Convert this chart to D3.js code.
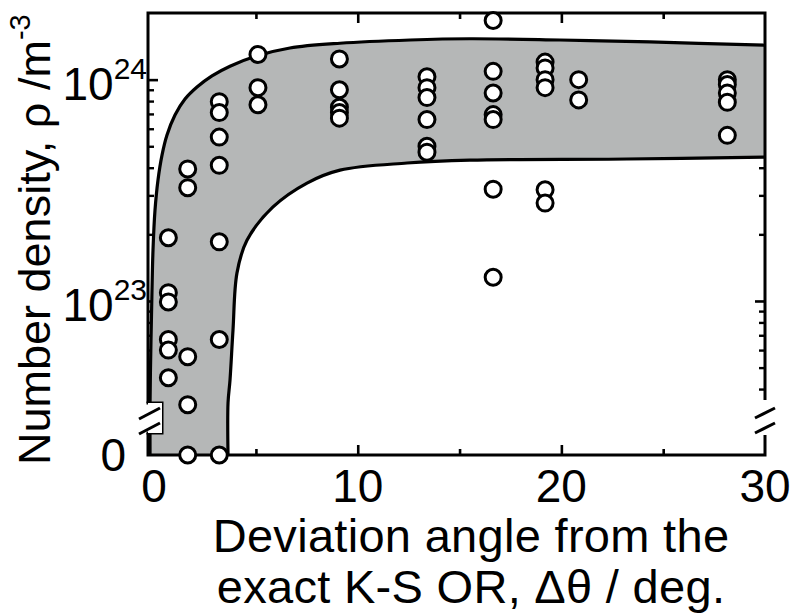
<!DOCTYPE html>
<html>
<head>
<meta charset="utf-8">
<script src="https://cdn.jsdelivr.net/npm/d3@7"></script>
<style>
  body { margin: 0; background: #fff; }
  svg { display: block; }
  text { font-family: "Liberation Sans", Arial, sans-serif; fill: #000; }
</style>
</head>
<body>
<svg id="chart" width="798" height="614"></svg>
<script>
// Measured precipitate number densities, grouped by deviation angle (deg).
// A density of 0 is plotted on the separate zero level below the axis break.
const columnAngles = [0.7, 1.65, 3.2, 5.1, 9.1, 13.4, 16.65, 19.2, 20.85, 28.15];
const columnDensities = [
  [1.93e23, 1.09e23, 9.9e22, 6.7e22, 6.0e22, 4.5e22],
  [3.95e23, 3.25e23, 5.6e22, 3.4e22, 0],
  [7.95e23, 7.1e23, 5.5e23, 4.1e23, 1.85e23, 6.7e22, 0],
  [1.3e24, 9.2e23, 7.7e23],
  [1.24e24, 9.0e23, 7.5e23, 7.1e23, 6.7e23],
  [1.03e24, 9.2e23, 8.3e23, 6.6e23, 5.0e23, 4.7e23],
  [1.85e24, 1.09e24, 8.7e23, 6.95e23, 6.6e23, 3.2e23, 1.28e23],
  [1.2e24, 1.13e24, 1.0e24, 9.2e23, 3.18e23, 2.77e23],
  [1.0e24, 8.1e23],
  [1.0e24, 9.5e23, 8.7e23, 7.9e23, 5.6e23]
];

// Upper and lower envelope of the shaded band
const upperAngle = [-0.2, -0.2, -0.153, -0.104, -0.054, 0.044, 0.191, 0.388, 0.633, 1.026, 1.517, 2.106, 2.843, 3.727, 5.05, 6.67, 9.13, 12.57, 15.5, 19.93, 24.35, 30];
const upperDensity = [0, 3.46e22, 6.66e22, 1.12e23, 1.7e23, 2.57e23, 3.52e23, 4.56e23, 5.62e23, 6.92e23, 8.17e23, 9.26e23, 1.04e24, 1.15e24, 1.28e24, 1.39e24, 1.46e24, 1.51e24, 1.53e24, 1.51e24, 1.48e24, 1.43e24];
const lowerAngle = [3.63, 3.63, 3.727, 3.874, 4.07, 4.56, 5.84, 7.51, 9.13, 12.42, 15.51, 23.22, 30];
const lowerDensity = [0, 3.46e22, 4.39e22, 7.39e22, 1.34e23, 1.88e23, 2.66e23, 3.41e23, 3.9e23, 4.2e23, 4.33e23, 4.38e23, 4.47e23];

// Axis ticks and labels
const xMajorTicks = [10, 20];
const xMinorTicks = [5, 15, 25];
const xTickLabels = [0, 10, 20, 30];
const yMajorTicks = [1e23, 1e24];
const yMinorTicks = [4e22, 5e22, 6e22, 7e22, 8e22, 9e22, 2e23, 3e23, 4e23, 5e23, 6e23, 7e23, 8e23, 9e23];
const yLabelValues = [1e23, 1e24];
const yLabelExponents = ["23", "24"];

const svg = d3.select("#chart");

const plotLeft = 148, plotRight = 765, plotTop = 13, logBottom = 403, zeroY = 455;
const breakTop = 403, breakBottom = 433, rightBreakTop = 400, rightBreakBottom = 435;

const x = d3.scaleLinear().domain([-0.3, 30]).range([plotLeft, plotRight]);
const yLog = d3.scaleLog().domain([3.46e22, 2e24]).range([logBottom, plotTop]);
const yPos = v => (v > 0 ? yLog(v) : zeroY);

const black = "#000";
const bandFill = "#b5b7b7";

// ---- ticks (drawn first so the band covers them) ----
function styleAxis(g, width) {
  g.select(".domain").remove();
  g.selectAll(".tick line").attr("stroke", black).attr("stroke-width", width);
  g.selectAll(".tick text").remove();
}
const ticks = svg.append("g");
ticks.append("g").attr("transform", `translate(${plotLeft},0)`)
  .call(d3.axisRight(yLog).tickValues(yMajorTicks).tickSize(10).tickFormat(""))
  .call(g => styleAxis(g, 2.6));
ticks.append("g").attr("transform", `translate(${plotLeft},0)`)
  .call(d3.axisRight(yLog).tickValues(yMinorTicks).tickSize(6).tickFormat(""))
  .call(g => styleAxis(g, 2.4));
ticks.append("g").attr("transform", `translate(${plotRight},0)`)
  .call(d3.axisLeft(yLog).tickValues(yMajorTicks).tickSize(10).tickFormat(""))
  .call(g => styleAxis(g, 2.6));
ticks.append("g").attr("transform", `translate(${plotRight},0)`)
  .call(d3.axisLeft(yLog).tickValues(yMinorTicks).tickSize(6).tickFormat(""))
  .call(g => styleAxis(g, 2.4));
ticks.append("g").attr("transform", `translate(0,${zeroY})`)
  .call(d3.axisTop(x).tickValues(xMajorTicks).tickSize(10).tickFormat(""))
  .call(g => styleAxis(g, 2.6));
ticks.append("g").attr("transform", `translate(0,${zeroY})`)
  .call(d3.axisTop(x).tickValues(xMinorTicks).tickSize(6).tickFormat(""))
  .call(g => styleAxis(g, 2.6));
ticks.append("g").attr("transform", `translate(0,${plotTop})`)
  .call(d3.axisBottom(x).tickValues(xMajorTicks).tickSize(10).tickFormat(""))
  .call(g => styleAxis(g, 2.6));
ticks.append("g").attr("transform", `translate(0,${plotTop})`)
  .call(d3.axisBottom(x).tickValues(xMinorTicks).tickSize(6).tickFormat(""))
  .call(g => styleAxis(g, 2.6));

// ---- shaded band between the two envelopes ----
const upperPts = upperAngle.map((a, i) => [x(a), yPos(upperDensity[i])]);
const lowerPts = lowerAngle.map((a, i) => [x(a), yPos(lowerDensity[i])]);
const curve = d3.line().curve(d3.curveCatmullRom.alpha(0.5));
const bandPath = curve(upperPts) + "L" + curve(lowerPts.slice().reverse()).slice(1) + "Z";

svg.append("path").attr("d", bandPath).attr("fill", bandFill).attr("stroke", "none");
svg.append("path").attr("d", curve(upperPts)).attr("fill", "none")
  .attr("stroke", black).attr("stroke-width", 3.2);
svg.append("path").attr("d", curve(lowerPts)).attr("fill", "none")
  .attr("stroke", black).attr("stroke-width", 3.2);

// ---- frame with axis breaks ----
const frame = svg.append("g").attr("fill", "none").attr("stroke", black).attr("stroke-width", 3);
frame.append("path").attr("d",
  `M${plotLeft},${breakTop}V${plotTop}H${plotRight}V${rightBreakTop}`);
frame.append("path").attr("d",
  `M${plotRight},${rightBreakBottom}V${zeroY}H${plotLeft}V${breakBottom}`);
// left break: notch cut out of the band
svg.append("rect").attr("x", plotLeft).attr("y", breakTop)
  .attr("width", 14).attr("height", breakBottom - breakTop).attr("fill", "#fff");
frame.append("path").attr("d",
  `M${plotLeft - 1.5},${breakTop}H${plotLeft + 14}V${breakBottom}H${plotLeft - 1.5}`);
const slashes = svg.append("g").attr("stroke", black).attr("stroke-width", 3);
slashes.append("line").attr("x1", 139).attr("y1", 419).attr("x2", 160).attr("y2", 408);
slashes.append("line").attr("x1", 139).attr("y1", 434).attr("x2", 160).attr("y2", 423);
slashes.append("line").attr("x1", 755).attr("y1", 418).attr("x2", 775).attr("y2", 408);
slashes.append("line").attr("x1", 755).attr("y1", 433).attr("x2", 775).attr("y2", 423);

// ---- data points ----
const points = columnAngles.flatMap((a, i) => columnDensities[i].map(d => ({ a, d })));
svg.append("g").selectAll("circle").data(points).join("circle")
  .attr("cx", p => x(p.a)).attr("cy", p => yPos(p.d)).attr("r", 8)
  .attr("fill", "#fff").attr("stroke", black).attr("stroke-width", 3);

// ---- tick labels ----
const fs = 46;
svg.append("g").selectAll("text").data(xTickLabels).join("text")
  .attr("x", d => x(d)).attr("y", 502).attr("text-anchor", "middle")
  .attr("font-size", fs).text(d => d);

const yl = svg.append("g").selectAll("text").data(yLabelValues).join("text")
  .attr("x", 147).attr("y", d => yLog(d) + 20).attr("text-anchor", "end")
  .attr("font-size", fs);
yl.append("tspan").text("10");
yl.append("tspan").attr("dy", -21).attr("font-size", 30).text((d, i) => yLabelExponents[i]);

svg.append("text").attr("x", 126).attr("y", zeroY + 16).attr("text-anchor", "end")
  .attr("font-size", fs).text("0");

// ---- axis titles ----
const yTitle = svg.append("text")
  .attr("transform", "translate(50,465) rotate(-90)")
  .attr("font-size", 45).attr("text-anchor", "start");
yTitle.append("tspan").text("Number density, \u03c1 /m");
yTitle.append("tspan").attr("dy", -20).attr("font-size", 29).text("-3");

const xTitle = svg.append("text").attr("text-anchor", "middle")
  .attr("font-size", 47).attr("letter-spacing", 0.3);
xTitle.append("tspan").attr("x", 471).attr("y", 552).text("Deviation angle from the");
xTitle.append("tspan").attr("x", 471).attr("y", 603).text("exact K-S OR, \u0394\u03b8 / deg.");
</script>
</body>
</html>
